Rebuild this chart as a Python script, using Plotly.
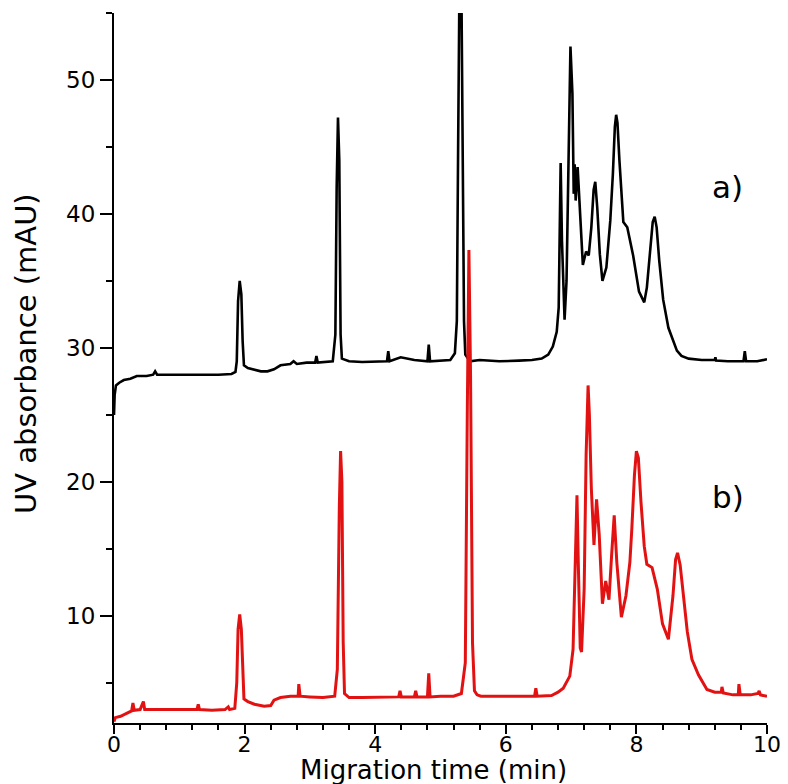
import plotly.graph_objects as go

# Trace a) (black) - migration time (min), absorbance (mAU)
time_a = [0.00, 0.01, 0.03, 0.08, 0.15, 0.25, 0.35, 0.50, 0.60, 0.63, 0.66, 0.80, 1.00, 1.20, 1.40, 1.60, 1.80,
          1.86, 1.88, 1.90, 1.925, 1.95, 1.97, 1.99, 2.05, 2.15, 2.25, 2.35, 2.45, 2.55, 2.70, 2.75, 2.80, 2.95,
          3.08, 3.10, 3.12, 3.35, 3.39, 3.41, 3.43, 3.45, 3.47, 3.49, 3.60, 3.80, 4.00, 4.18, 4.20, 4.22,
          4.39, 4.60, 4.80, 4.82, 4.84, 5.15, 5.22, 5.25, 5.27, 5.29, 5.32, 5.34, 5.36, 5.38, 5.45, 5.60,
          5.90, 6.20, 6.40, 6.55, 6.65, 6.72, 6.78, 6.81, 6.84, 6.86, 6.90, 6.93, 6.96, 6.99, 7.02, 7.04,
          7.055, 7.07, 7.10, 7.13, 7.18, 7.23, 7.27, 7.31, 7.345, 7.37, 7.40, 7.44, 7.48, 7.54, 7.60, 7.64,
          7.67, 7.69, 7.71, 7.74, 7.78, 7.80, 7.86, 7.95, 8.04, 8.12, 8.16, 8.21, 8.25, 8.28, 8.31, 8.35,
          8.41, 8.49, 8.56, 8.62, 8.69, 8.80, 9.00, 9.20, 9.21, 9.22, 9.40, 9.64, 9.66, 9.68, 9.85, 9.99, 10.00]
abs_a = [25.0, 26.5, 27.2, 27.4, 27.6, 27.7, 27.9, 27.9, 28.0, 28.25, 28.0, 28.0, 27.95, 28.0, 28.0, 28.0, 28.05,
         28.2, 29.0, 33.5, 35.0, 34.0, 30.5, 28.7, 28.5, 28.4, 28.25, 28.25, 28.4, 28.7, 28.8, 29.0, 28.8, 28.9,
         28.9, 29.4, 28.9, 29.0, 31.0, 42.0, 47.2, 44.0, 31.0, 29.2, 29.0, 28.95, 29.0, 29.0, 29.75, 29.0,
         29.3, 29.1, 29.0, 30.25, 29.0, 29.1, 29.6, 32.0, 45.0, 57.0, 57.0, 45.0, 32.0, 29.5, 29.0, 29.1,
         29.0, 29.05, 29.1, 29.2, 29.5, 30.1, 31.2, 33.0, 43.8, 38.0, 32.1, 35.0, 44.8, 52.5, 49.0, 41.5,
         43.7, 41.0, 43.5, 40.7, 36.2, 37.2, 36.9, 39.0, 41.8, 42.4, 40.5, 37.0, 35.0, 36.0, 39.5, 43.0,
         46.5, 47.4, 46.8, 44.0, 40.3, 39.4, 39.0, 36.9, 34.2, 33.4, 34.5, 37.0, 39.4, 39.8, 39.0, 36.5,
         33.6, 31.5, 30.6, 29.8, 29.4, 29.2, 29.1, 29.1, 29.3, 29.05, 29.0, 29.0, 29.75, 29.0, 29.0, 29.1, 29.15]

# Trace b) (red)
time_b = [0.00, 0.02, 0.10, 0.20, 0.27, 0.29, 0.31, 0.40, 0.45, 0.47, 0.60, 0.80, 1.00, 1.27, 1.29, 1.31, 1.50,
          1.70, 1.75, 1.77, 1.85, 1.88, 1.90, 1.925, 1.95, 1.97, 1.99, 2.05, 2.15, 2.30, 2.40, 2.45, 2.55, 2.70,
          2.82, 2.83, 2.85, 3.00, 3.20, 3.38, 3.42, 3.45, 3.47, 3.49, 3.51, 3.53, 3.60, 3.80, 4.00, 4.20,
          4.36, 4.38, 4.40, 4.60, 4.62, 4.64, 4.80, 4.82, 4.84, 5.00, 5.20, 5.32, 5.38, 5.41, 5.435, 5.46,
          5.49, 5.52, 5.56, 5.62, 5.80, 6.00, 6.20, 6.44, 6.46, 6.48, 6.70, 6.80, 6.88, 6.93, 6.98, 7.03,
          7.06, 7.09, 7.11, 7.14, 7.16, 7.20, 7.23, 7.26, 7.28, 7.31, 7.35, 7.39, 7.43, 7.48, 7.53, 7.58,
          7.62, 7.66, 7.70, 7.77, 7.84, 7.90, 7.93, 7.97, 8.00, 8.03, 8.07, 8.12, 8.16, 8.24, 8.32, 8.40,
          8.49, 8.56, 8.60, 8.63, 8.67, 8.72, 8.78, 8.85, 8.95, 9.08, 9.20, 9.30, 9.31, 9.33, 9.48, 9.56,
          9.57, 9.59, 9.75, 9.86, 9.88, 9.90, 10.00]
abs_b = [2.1, 2.4, 2.5, 2.75, 2.9, 3.5, 2.95, 3.0, 3.6, 3.0, 3.0, 2.95, 2.95, 3.0, 3.4, 3.0, 2.95,
         3.0, 3.2, 3.0, 3.1, 5.0, 9.0, 10.1, 9.0, 5.5, 3.8, 3.6, 3.4, 3.25, 3.3, 3.7, 3.9, 4.0,
         4.0, 4.9, 4.0, 3.95, 3.9, 4.0, 6.0, 18.0, 22.3, 20.0, 8.0, 4.2, 3.9, 3.9, 3.9, 3.95,
         3.95, 4.4, 3.95, 3.95, 4.4, 3.95, 3.95, 5.7, 3.95, 4.0, 4.0, 4.2, 6.5, 25.0, 37.3, 28.0,
         8.0, 4.4, 4.1, 4.0, 4.0, 3.95, 4.0, 4.0, 4.6, 4.0, 4.05, 4.3, 4.6, 5.1, 5.5, 7.5,
         14.0, 19.0, 14.0, 7.6, 7.3, 12.0, 22.0, 27.2, 25.0, 19.5, 15.3, 18.7, 16.1, 10.9, 12.6, 11.2,
         14.5, 17.5, 14.0, 9.9, 11.5, 14.0, 16.5, 20.5, 22.3, 21.8, 18.5, 15.2, 13.85, 13.6, 12.0, 9.4,
         8.25, 11.5, 14.2, 14.7, 13.8, 11.5, 8.8, 6.75, 5.6, 4.5, 4.3, 4.3, 4.7, 4.25, 4.1, 4.1,
         4.9, 4.1, 4.1, 4.2, 4.4, 4.1, 4.0]

x_ticks = [0, 2, 4, 6, 8, 10]
y_ticks = [10, 20, 30, 40, 50]
labels = ["a)", "b)"]
label_x = [9.4, 9.4]
label_y = [42.0, 18.9]

FONT = "DejaVu Sans"

fig = go.Figure()
fig.add_trace(go.Scatter(x=time_a, y=abs_a, mode="lines",
                         line=dict(color="#000000", width=2.6), showlegend=False))
fig.add_trace(go.Scatter(x=time_b, y=abs_b, mode="lines",
                         line=dict(color="#e31212", width=3), showlegend=False))

for t, lx, ly in zip(labels, label_x, label_y):
    fig.add_annotation(x=lx, y=ly, text=t, showarrow=False, xref="x", yref="y",
                       font=dict(family=FONT, size=31, color="#000000"))

fig.add_annotation(text="UV absorbance (mAU)", xref="paper", yref="paper",
                   x=-0.1348, y=0.521, textangle=-90, showarrow=False,
                   xanchor="center", yanchor="middle",
                   font=dict(family=FONT, size=29, color="#000000"))
fig.add_annotation(text="Migration time (min)", xref="paper", yref="paper",
                   x=0.49, y=-0.0662, showarrow=False,
                   xanchor="center", yanchor="middle",
                   font=dict(family=FONT, size=26, color="#000000"))

# page body has an 8px margin, so the figure is offset by 8px
fig.update_layout(
    width=780, height=776,
    margin=dict(l=106, r=21, t=5, b=61),
    paper_bgcolor="white", plot_bgcolor="white",
    xaxis=dict(range=[0, 10], tickvals=x_ticks, ticktext=[str(v) for v in x_ticks],
               showgrid=False, zeroline=False,
               showline=True, linecolor="black", linewidth=2,
               ticks="outside", ticklen=9, tickwidth=2, tickcolor="black",
               ticklabelstandoff=-8,
               minor=dict(dtick=0.4, tick0=0, ticks="outside", ticklen=5, tickwidth=2, tickcolor="black"),
               tickfont=dict(family=FONT, size=22, color="black")),
    yaxis=dict(range=[2, 55], tickvals=y_ticks, ticktext=[str(v) for v in y_ticks],
               showgrid=False, zeroline=False,
               showline=True, linecolor="black", linewidth=2,
               ticks="outside", ticklen=12, tickwidth=2, tickcolor="black",
               minor=dict(dtick=5, tick0=0, ticks="outside", ticklen=6, tickwidth=2, tickcolor="black"),
               tickfont=dict(family=FONT, size=23, color="black")),
)

fig.write_html("out.html")
